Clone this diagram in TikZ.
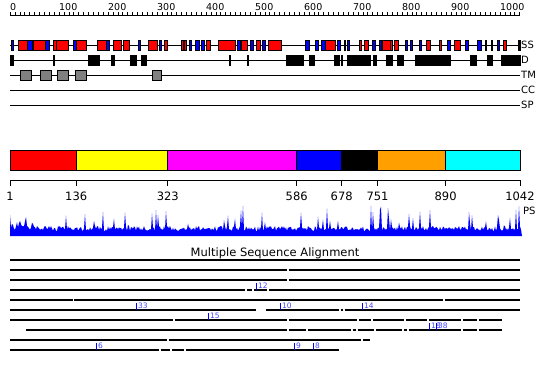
\documentclass[tikz,border=0pt]{standalone}
\usepackage{fontspec}
\setmainfont{DejaVu Sans}
\definecolor{domorange}{RGB}{255,160,0}
\definecolor{dommagenta}{RGB}{255,0,255}
\definecolor{domcyan}{RGB}{0,255,255}
\definecolor{domred}{RGB}{255,0,0}
\definecolor{domyellow}{RGB}{255,255,0}
\definecolor{domblue}{RGB}{0,0,255}
\definecolor{mkblue}{RGB}{70,70,255}
\begin{document}
\begin{tikzpicture}[x=1pt,y=-1pt,
  trk/.style={line width=0.9pt},
  boxline/.style={draw=black,line width=0.6pt},
  ssred/.style={boxline,fill=domred},
  ssblue/.style={boxline,fill=domblue},
  dbox/.style={boxline,fill=black},
  tmbox/.style={boxline,fill=black!50},
  tracklbl/.style={anchor=base west,inner sep=0pt,font=\fontsize{10}{10}\selectfont},
  rulerlbl/.style={anchor=base west,inner sep=0pt,font=\fontsize{9.5}{10}\selectfont},
  domlbl/.style={anchor=base,inner sep=0pt,font=\fontsize{11.5}{12}\selectfont},
  domseg/.style={draw=black,line width=0.9pt},
  msa/.style={line width=1.1pt},
  mktick/.style={domblue,line width=0.8pt},
  mklbl/.style={anchor=base west,inner sep=0pt,text=mkblue,font=\fontsize{7.5}{8}\selectfont}
]
\useasboundingbox (0,0) rectangle (550,380);

% ruler
\draw[line width=0.9pt] (10,15) -- (520,15);
\foreach \i in {0,...,104} \draw[line width=0.6pt] ({10+\i*4.9},15) -- ({10+\i*4.9},12.3);
\foreach \v in {0,100,...,1000} \node[rulerlbl] (r\v) at ({10+\v*0.49},10.5) {\v};

% tracks
\foreach \yy/\nm/\tx in {45/ss/SS,60/d/D,75/tm/TM,90/cc/CC,105/sp/SP}{
  \draw[trk] (10,\yy) -- (520,\yy);
  \node[tracklbl] (lbl\nm) at (521,\yy+3.6) {\tx};
}
% SS red
\foreach \a/\b in {18.3/27.3,33.3/45,53.3/56,56/68.3,76.7/86,97.3/106,113.3/121.7,123.3/129.3,148.3/157.3,164.3/167.3,181/183.3,184/186.7,206.3/210.3,218.3/235.7,241.3/247.3,256/260.3,268.3/281.7,325/335,359.3/361,364.3/368.3,382.3/390,390.7/392.3,394/398.3,426.7/430,439.3/441,454/460.7,503.7/506.7}
  \draw[ssred] (\a,40) rectangle (\b,50);
% SS blue
\foreach \a/\b in {11/13.3,27.3/32.3,45/49.3,73.3/76.7,106/109,138.3/140.3,159.3/161.7,189/191.3,195.7/199.3,201.7/204.3,237.3/240.7,250/253.3,262.3/265.7,305.7/309,315/318.3,321.7/325,337.7/340.3,344/345.5,347.5/349,372.7/375,379.3/381.7,405/407.7,410/412.3,419/421.7,447.7/450,465.7/468.3,477.3/481,497.3/499}
  \draw[ssblue] (\a,40) rectangle (\b,50);
\foreach \a/\b in {485/486.3,491/492.3,518.3/520}
  \draw[dbox] (\a,40) rectangle (\b,50);
% D
\foreach \a/\b in {10/13.3,53/54,88.3/99,111/114,130/136.7,141/146,229.3/230.7,247.3/248.7,286/303.3,309/314,334/336,337.7/339.3,341/342.7,347.7/370,373.3/374.3,375/376,386.7/392.3,397.3/403.3,415/446.7,447.7/450.7,470.7/476.7,487.3/492.7,501/520}
  \draw[dbox] (\a,55) rectangle (\b,65);
% TM
\foreach \a/\b in {20/31.7,40/51.7,57.3/68.3,75/86.7,152.3/161.7}
  \draw[tmbox] (\a,70) rectangle (\b,80.5);

% domain bar
\foreach \a/\b/\c in {10/76.2/domred,76.2/167.8/domyellow,167.8/296.7/dommagenta,296.7/341.7/domblue,341.7/377.5/black,377.5/445.6/domorange,445.6/520/domcyan}
  \draw[domseg,fill=\c] (\a,150) rectangle (\b,170);
\draw[line width=0.9pt] (10,180) -- (520,180);
\foreach \x/\v in {10/1,76.2/136,167.8/323,296.7/586,341.7/678,377.5/751,445.6/890,520/1042}{
  \draw[line width=0.9pt] (\x,180) -- (\x,186);
  \node[domlbl] (dl\v) at (\x,200) {\v};
}
\node[tracklbl] (lblps) at (523,214) {PS};

% PS profile
\pgfmathsetseed{11}
\fill[domblue] (10,236) -- (10,215)
  \foreach \i in {1,...,511} { -- ({10+\i},{236-(5+5*rnd+(rnd>0.92)*(4+18*rnd)+(\i<25)*8*rnd)}) }
  -- (522,236) -- cycle;

% MSA
\node[anchor=base,inner sep=0pt,font=\fontsize{11.5}{12}\selectfont] (msatitle) at (275,256) {Multiple Sequence Alignment};
\foreach \yy/\segs in {
  260/{10/520},
  270/{10/287,288.5/520},
  280/{10/287,288.5/520},
  290/{10/245,247/252,254/267,268.5/520},
  300/{10/72.5,74/443,444.5/520},
  310/{10/256,266/339,340.5/343,344.5/520},
  320/{10/173,174.5/287,288.5/357,358.5/371,372.5/404,405.5/427,428.5/461,462.5/477,478.5/502},
  330/{26/287,288.5/306,307.5/351,352.5/356,357.5/374,375.5/402,403.5/407,408.5/461,462.5/477,478.5/502},
  340/{10/167,168.5/361,362.5/370},
  350/{10/159,160.5/170,171.5/184,185.5/339}}{
  \foreach \a/\b in \segs \draw[msa] (\a,\yy) -- (\b,\yy);
}
\foreach \x/\yy/\t in {256/290/12,136/310/33,280/310/10,362/310/14,208/320/15,429/330/18,436/330/38,96/350/6,294/350/9,313/350/8}{
  \draw[mktick] (\x,\yy-7) -- (\x,\yy);
  \node[mklbl] (mk\t\x) at (\x+1.8,\yy-2) {\t};
}
\end{tikzpicture}
\end{document}
